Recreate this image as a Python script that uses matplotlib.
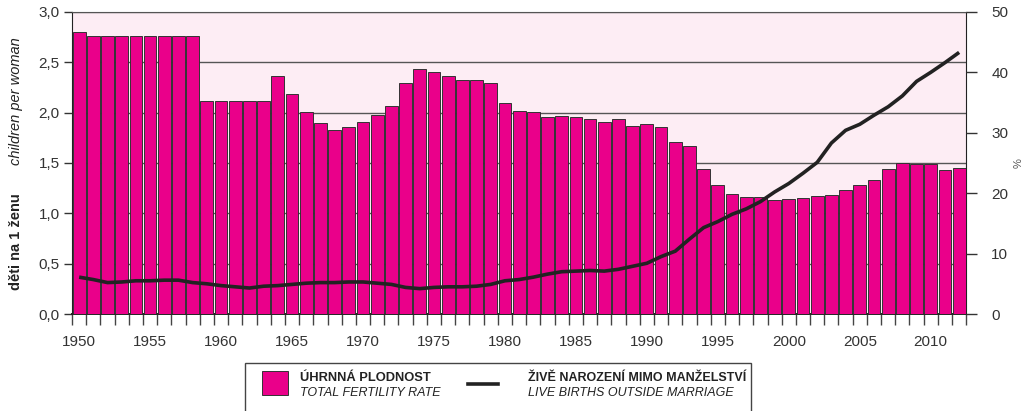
import numpy as np
import matplotlib
matplotlib.use('Agg')
import matplotlib.pyplot as plt
from matplotlib.patches import Rectangle
from matplotlib.lines import Line2D

plt.rcParams['font.family'] = ['Liberation Sans', 'DejaVu Sans']

years = list(range(1950, 2013))

# total fertility rate (children per woman)
fertility = [2.80, 2.76, 2.76, 2.76, 2.76, 2.76, 2.76, 2.76, 2.76, 2.12,
             2.12, 2.12, 2.12, 2.12, 2.36, 2.18, 2.01, 1.90, 1.83, 1.86,
             1.91, 1.98, 2.07, 2.29, 2.43, 2.40, 2.36, 2.32, 2.32, 2.29,
             2.10, 2.02, 2.01, 1.96, 1.97, 1.96, 1.94, 1.91, 1.94, 1.87,
             1.89, 1.86, 1.71, 1.67, 1.44, 1.28, 1.19, 1.16, 1.16, 1.13,
             1.14, 1.15, 1.17, 1.18, 1.23, 1.28, 1.33, 1.44, 1.50, 1.49,
             1.49, 1.43, 1.45]

# live births outside marriage (%)
outside_marriage = [6.1, 5.7, 5.2, 5.3, 5.5, 5.5, 5.6, 5.6, 5.2, 5.0,
                    4.7, 4.5, 4.3, 4.6, 4.7, 4.9, 5.1, 5.2, 5.2, 5.3,
                    5.3, 5.1, 4.9, 4.4, 4.2, 4.4, 4.5, 4.5, 4.6, 4.9,
                    5.5, 5.7, 6.1, 6.6, 7.0, 7.1, 7.2, 7.1, 7.4, 7.9,
                    8.4, 9.5, 10.4, 12.4, 14.3, 15.3, 16.5, 17.4, 18.6, 20.2,
                    21.6, 23.3, 25.1, 28.3, 30.4, 31.4, 32.9, 34.3, 36.1, 38.5,
                    40.0, 41.6, 43.3]

left_ticks = [0.0, 0.5, 1.0, 1.5, 2.0, 2.5, 3.0]
left_labels = ['0,0', '0,5', '1,0', '1,5', '2,0', '2,5', '3,0']
right_ticks = [0, 10, 20, 30, 40, 50]
year_labels = list(range(1950, 2011, 5))

magenta = '#ea008a'
pink_bg = '#fdedf4'
grid_col = '#555555'

fig = plt.figure(figsize=(10.29, 4.11), dpi=100)
ax = fig.add_axes([0.070, 0.236, 0.869, 0.735])
ax.set_facecolor(pink_bg)

ax.bar(years, fertility, width=0.9, color=magenta, edgecolor='#333333',
       linewidth=0.7, zorder=3)
ax.set_xlim(1949.5, 2012.5)
ax.set_ylim(0, 3.0)
ax.set_yticks(left_ticks)
ax.set_yticklabels(left_labels)
ax.yaxis.grid(True, color=grid_col, linewidth=1.0, zorder=1)
ax.set_axisbelow(True)

ax.set_xticks(year_labels)
ax.set_xticklabels([str(y) for y in year_labels])
ax.set_xticks([y - 0.5 for y in years] + [2012.5], minor=True)
ax.tick_params(axis='x', which='major', length=0, pad=15, labelsize=11,
               colors='#333333')
ax.tick_params(axis='x', which='minor', length=8, width=1, color='#444444')
ax.tick_params(axis='y', length=6, width=1, labelsize=11, colors='#333333',
               pad=3)

for side in ['left', 'right', 'top', 'bottom']:
    ax.spines[side].set_color('#222222')
ax.spines['bottom'].set_linewidth(1.4)
ax.spines['top'].set_linewidth(0.8)
ax.spines['top'].set_color(grid_col)

ax2 = ax.twinx()
ax2.plot(years, outside_marriage, color='#222222', linewidth=2.6, zorder=5,
         solid_capstyle='butt')
ax2.set_ylim(0, 50)
ax2.set_yticks(right_ticks)
ax2.tick_params(axis='y', length=8, width=1, labelsize=11, colors='#333333',
                pad=10)
for side in ['left', 'right', 'top', 'bottom']:
    ax2.spines[side].set_visible(False)

fig.text(0.990, 0.603, '%', rotation=90, ha='center', va='center',
         fontsize=8, color='#555555')

# left axis titles
fig.text(0.016, 0.412, 'děti na 1 ženu', rotation=90, ha='center', va='center',
         fontsize=10.5, fontweight='bold', color='#222222')
fig.text(0.016, 0.753, 'children per woman', rotation=90, ha='center',
         va='center', fontsize=10.5, style='italic', color='#222222')

# legend box
fig.patches.append(Rectangle((0.238, -0.02), 0.492, 0.137, transform=fig.transFigure,
                             facecolor='white', edgecolor='#444444',
                             linewidth=1.0))
fig.patches.append(Rectangle((0.255, 0.039), 0.025, 0.058, transform=fig.transFigure,
                             facecolor=magenta, edgecolor='#333333',
                             linewidth=0.7))
fig.text(0.292, 0.080, 'ÚHRNNÁ PLODNOST', fontsize=9.3, fontweight='bold',
         ha='left', va='center', color='#222222')
fig.text(0.292, 0.043, 'TOTAL FERTILITY RATE', fontsize=9, style='italic',
         ha='left', va='center', color='#222222')
fig.lines.append(Line2D([0.455, 0.484], [0.066, 0.066], transform=fig.transFigure,
                        color='#222222', linewidth=2.6))
fig.text(0.513, 0.080, 'ŽIVĚ NAROZENÍ MIMO MANŽELSTVÍ', fontsize=9,
         fontweight='bold', ha='left', va='center', color='#222222')
fig.text(0.513, 0.043, 'LIVE BIRTHS OUTSIDE MARRIAGE', fontsize=9,
         style='italic', ha='left', va='center', color='#222222')

fig.savefig('out.png', dpi=100)
